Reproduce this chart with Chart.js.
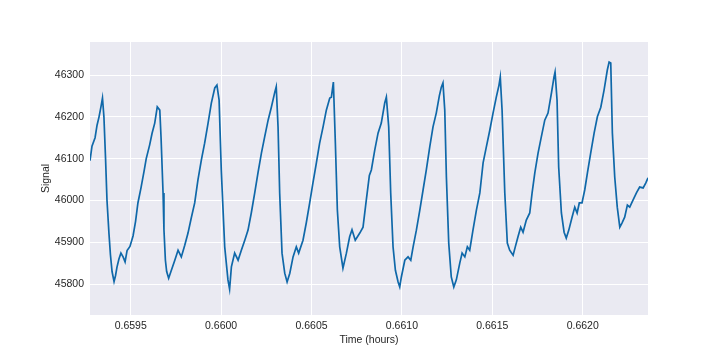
<!DOCTYPE html>
<html>
<head>
<meta charset="utf-8">
<script src="https://cdn.jsdelivr.net/npm/chart.js@4.4.0/dist/chart.umd.min.js"></script>
<style>
  html, body { margin: 0; padding: 0; background: #fff; }
  #wrap { width: 720px; height: 355px; }
</style>
</head>
<body>
<div id="wrap"><canvas id="grafik"></canvas></div>
<script>
// waktu (jam) dan nilai sinyal
const waktu = [
  0.659275, 0.659286, 0.659303, 0.659314, 0.659325, 0.659336, 0.659344, 0.659352, 0.659361, 0.659369,
  0.659380, 0.659388, 0.659397, 0.659408, 0.659416, 0.659424, 0.659435, 0.659446, 0.659458, 0.659469,
  0.659480, 0.659496, 0.659513, 0.659527, 0.659540, 0.659557, 0.659574, 0.659586, 0.659605, 0.659618,
  0.659633, 0.659647, 0.659661, 0.659668, 0.659679, 0.659684, 0.659692, 0.659699, 0.659710, 0.659725,
  0.659744, 0.659762, 0.659780, 0.659799, 0.659817, 0.659835, 0.659854, 0.659872, 0.659891, 0.659909,
  0.659928, 0.659946, 0.659965, 0.659977, 0.659989, 0.660001, 0.660020, 0.660038, 0.660047, 0.660057,
  0.660075, 0.660094, 0.660112, 0.660131, 0.660149, 0.660167, 0.660186, 0.660204, 0.660223, 0.660241,
  0.660260, 0.660278, 0.660297, 0.660305, 0.660315, 0.660324, 0.660337, 0.660352, 0.660365, 0.660380,
  0.660398, 0.660416, 0.660429, 0.660453, 0.660471, 0.660490, 0.660508, 0.660527, 0.660545, 0.660564,
  0.660582, 0.660601, 0.660610, 0.660621, 0.660632, 0.660643, 0.660656, 0.660674, 0.660693, 0.660711,
  0.660724, 0.660742, 0.660767, 0.660785, 0.660803, 0.660820, 0.660831, 0.660850, 0.660868, 0.660886,
  0.660905, 0.660914, 0.660927, 0.660938, 0.660951, 0.660964, 0.660979, 0.660988, 0.660997, 0.661016,
  0.661034, 0.661049, 0.661062, 0.661080, 0.661099, 0.661117, 0.661135, 0.661154, 0.661172, 0.661190,
  0.661207, 0.661218, 0.661227, 0.661237, 0.661246, 0.661259, 0.661273, 0.661287, 0.661301, 0.661320,
  0.661333, 0.661348, 0.661362, 0.661375, 0.661393, 0.661412, 0.661431, 0.661449, 0.661467, 0.661486,
  0.661504, 0.661522, 0.661537, 0.661544, 0.661554, 0.661569, 0.661583, 0.661596, 0.661615, 0.661627,
  0.661642, 0.661657, 0.661670, 0.661688, 0.661707, 0.661720, 0.661735, 0.661753, 0.661771, 0.661790,
  0.661808, 0.661827, 0.661841, 0.661847, 0.661858, 0.661867, 0.661882, 0.661897, 0.661909, 0.661923,
  0.661941, 0.661956, 0.661969, 0.661981, 0.661996, 0.662011, 0.662026, 0.662044, 0.662063, 0.662081,
  0.662100, 0.662118, 0.662136, 0.662146, 0.662155, 0.662164, 0.662177, 0.662191, 0.662205, 0.662217,
  0.662232, 0.662247, 0.662260, 0.662278, 0.662297, 0.662315, 0.662334, 0.662349, 0.662361
];
const sinyal = [
  46095, 46130, 46150, 46180, 46200, 46225, 46245, 46200, 46100, 46000,
  45920, 45870, 45830, 45806, 45820, 45840, 45860, 45874, 45865, 45853,
  45880, 45890, 45915, 45950, 45994, 46030, 46070, 46100, 46133, 46160,
  46185, 46224, 46216, 46150, 46018, 45930, 45857, 45830, 45814, 45833,
  45857, 45881, 45865, 45893, 45922, 45958, 45994, 46049, 46097, 46137,
  46185, 46233, 46269, 46276, 46240, 46073, 45889, 45810, 45788, 45841,
  45874, 45857, 45881, 45905, 45929, 45970, 46018, 46066, 46113, 46152,
  46192, 46223, 46259, 46272, 46176, 46018, 45874, 45826, 45805, 45826,
  45865, 45889, 45874, 45905, 45946, 45994, 46042, 46090, 46137, 46176,
  46216, 46245, 46247, 46283, 46137, 45977, 45889, 45838, 45874, 45913,
  45930, 45905, 45922, 45936, 46001, 46060, 46073, 46121, 46161, 46185,
  46233, 46247, 46176, 46018, 45889, 45833, 45805, 45793, 45817, 45857,
  45865, 45857, 45889, 45929, 45977, 46025, 46073, 46128, 46176, 46209,
  46250, 46271, 46281, 46216, 46056, 45898, 45817, 45793, 45810, 45850,
  45874, 45865, 45889, 45881, 45929, 45977, 46018, 46090, 46128, 46168,
  46209, 46247, 46276, 46295, 46216, 46018, 45898, 45881, 45869, 45889,
  45913, 45936, 45924, 45953, 45970, 46018, 46066, 46113, 46152, 46192,
  46209, 46257, 46295, 46307, 46240, 46080, 45970, 45924, 45910, 45929,
  45960, 45984, 45970, 45994, 45994, 46025, 46066, 46113, 46161, 46200,
  46223, 46264, 46312, 46331, 46329, 46161, 46056, 45984, 45936, 45946,
  45960, 45989, 45984, 46001, 46018, 46032, 46030, 46042, 46054
];
const tickX = [0.6595, 0.6600, 0.6605, 0.6610, 0.6615, 0.6620];
const tickY = [45800, 45900, 46000, 46100, 46200, 46300];

const titik = waktu.map((t, i) => ({ x: t, y: sinyal[i] }));

// latar abu-abu kebiruan ala seaborn
const latarPlot = {
  id: 'latarPlot',
  beforeDraw(chart) {
    const { ctx, chartArea: a } = chart;
    ctx.save();
    ctx.fillStyle = '#eaeaf2';
    ctx.fillRect(a.left, a.top, a.right - a.left, a.bottom - a.top);
    ctx.restore();
  }
};

const huruf = { family: "'Liberation Sans', Arial, sans-serif", size: 10.5 };

new Chart(document.getElementById('grafik'), {
  type: 'line',
  data: {
    datasets: [{
      data: titik,
      borderColor: '#0f68a9',
      borderWidth: 1.7,
      pointRadius: 0,
      tension: 0
    }]
  },
  options: {
    responsive: true,
    maintainAspectRatio: false,
    animation: false,
    layout: { padding: { top: 42, right: 72, left: 40, bottom: 9 } },
    plugins: { legend: { display: false }, tooltip: { enabled: false } },
    scales: {
      x: {
        type: 'linear',
        min: 0.659275,
        max: 0.662361,
        afterBuildTicks: s => { s.ticks = tickX.map(v => ({ value: v })); },
        afterFit: s => { s.height = 31; },
        grid: { color: '#ffffff', lineWidth: 1, drawTicks: false },
        border: { display: false },
        ticks: {
          color: '#262626', font: huruf, padding: 5, maxRotation: 0,
          callback: v => v.toFixed(4)
        },
        title: { display: true, text: 'Time (hours)', color: '#262626', font: huruf, padding: { top: 0, bottom: 0 } }
      },
      y: {
        min: 45726,
        max: 46379,
        afterBuildTicks: s => { s.ticks = tickY.map(v => ({ value: v })); },
        afterFit: s => { s.width = 50; },
        grid: { color: '#ffffff', lineWidth: 1, drawTicks: false },
        border: { display: false },
        ticks: { color: '#262626', font: huruf, padding: 6, callback: v => String(v) },
        title: { display: true, text: 'Signal', color: '#262626', font: huruf, padding: { top: 0, bottom: 0 } }
      }
    }
  },
  plugins: [latarPlot]
});
</script>
</body>
</html>
